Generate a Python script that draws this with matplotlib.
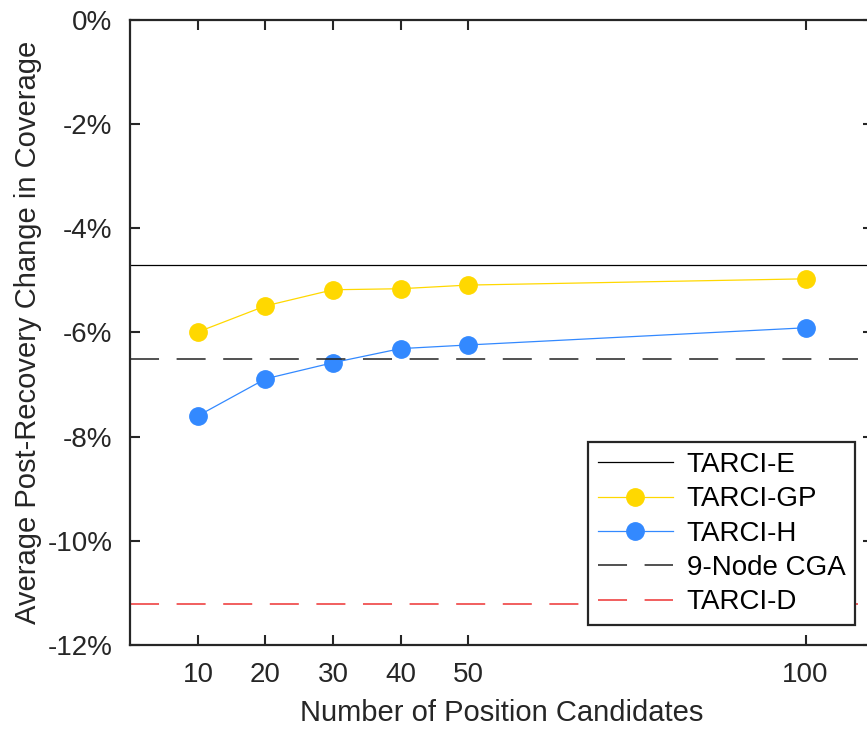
import matplotlib
matplotlib.use('Agg')
import matplotlib.pyplot as plt
import numpy as np

plt.rcParams['font.family'] = ['Liberation Sans', 'DejaVu Sans']

# data
candidates = [10, 20, 30, 40, 50, 100]
tarci_gp = [-5.99, -5.49, -5.18, -5.16, -5.09, -4.97]
tarci_h = [-7.60, -6.89, -6.58, -6.31, -6.24, -5.91]
tarci_e = -4.70
cga_9node = -6.51
tarci_d = -11.21
yticks = [0, -2, -4, -6, -8, -10, -12]

fig = plt.figure(figsize=(8.67, 7.32), dpi=100)
ax = fig.add_axes([0.1505, 0.1189, 0.8565, 0.8538])

ax.axhline(tarci_e, color='black', lw=0.9, label='TARCI-E')
ax.plot(candidates, tarci_gp, '-o', color='#FFD800', lw=0.9, ms=12.5,
        label='TARCI-GP')
ax.plot(candidates, tarci_h, '-o', color='#3389FF', lw=0.9, ms=12.5,
        label='TARCI-H')
ax.axhline(cga_9node, color='#222222', lw=1.1, dashes=(19, 11.5),
           label='9-Node CGA')
ax.axhline(tarci_d, color='#EE3333', lw=1.1, dashes=(19, 11.5),
           label='TARCI-D')

ax.set_xlim(0, 110)
ax.set_ylim(-12, 0)
ax.set_xticks(candidates)
ax.set_yticks(yticks)
ax.set_yticklabels(['{0}%'.format(v) for v in yticks])

ax.tick_params(direction='in', length=7, width=1.5, colors='#262626',
               labelsize=20, top=True, right=True, pad=13)
ax.tick_params(axis='x', pad=12)
for s in ax.spines.values():
    s.set_linewidth(1.6)
    s.set_color('#262626')

ax.set_xlabel('Number of Position Candidates', fontsize=21, color='#262626',
              labelpad=8)
ax.set_ylabel('Average Post-Recovery Change in Coverage', fontsize=21,
              color='#262626', labelpad=4)

leg = ax.legend(loc='lower right', bbox_to_anchor=(855 / 867, 1 - 625 / 732),
                bbox_transform=fig.transFigure, borderaxespad=0, fontsize=20,
                fancybox=False, framealpha=1, edgecolor='#262626',
                handlelength=2.7, borderpad=0.35, labelspacing=0.3,
                handletextpad=0.5)
leg.get_frame().set_linewidth(1.6)

fig.savefig('out.png', dpi=100)
